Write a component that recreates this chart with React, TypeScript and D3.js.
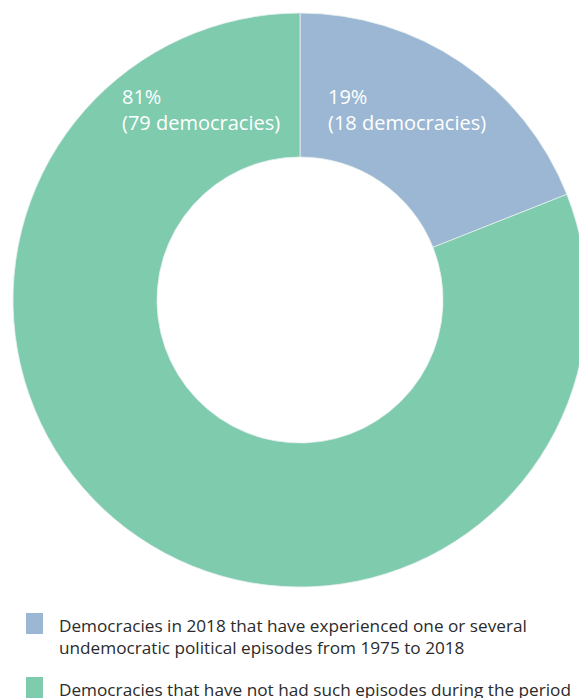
import React from "react";
import * as d3 from "d3";

const categories = ["Democracies in 2018 that have experienced one or several undemocratic political episodes from 1975 to 2018", "Democracies that have not had such episodes during the period"];
const values = [19, 81];
const percents = ["19%", "81%"];
const countLabels = ["(18 democracies)", "(79 democracies)"];
const colors = ["#9bb7d3", "#7ecbae"];
const legendLines = [
  ["Democracies in 2018 that have experienced one or several", "undemocratic political episodes from 1975 to 2018"],
  ["Democracies that have not had such episodes during the period"],
];

export default function App() {
  const W = 579, H = 698;
  const cx = 300, cy = 300, outerR = 287, innerR = 143;
  const pie = d3.pie<number>().sort(null).value((d) => d);
  const arcs = pie(values);
  const arc = d3.arc<d3.PieArcDatum<number>>().innerRadius(innerR).outerRadius(outerR);
  const labelPos = [
    { x: 328, y: 104 },
    { x: 122, y: 104 },
  ];
  const font = "'Open Sans', 'Noto Sans', sans-serif";
  return (
    <svg width={W} height={H} style={{ position: "absolute", left: 0, top: 0, display: "block" }}>
      <g transform={`translate(${cx},${cy})`}>
        {arcs.map((a, i) => (
          <path key={i} d={arc(a) || ""} fill={colors[i]} stroke="#e8f0f0" strokeWidth={0.8} />
        ))}
      </g>
      {labelPos.map((p, i) => (
        <text key={i} x={p.x} y={p.y} fill="#fff" fontFamily={font} fontSize={20}>
          <tspan x={p.x}>{percents[i]}</tspan>
          <tspan x={p.x} dy={26}>{countLabels[i]}</tspan>
        </text>
      ))}
      {legendLines.map((lines, i) => {
        const y0 = 613 + i * 64;
        return (
          <g key={i}>
            <rect x={26} y={y0} width={17} height={21} fill={colors[i]} />
            <text x={59} y={y0 + 19} fill="#2b2b2b" fontFamily={font} fontSize={17.2}>
              {lines.map((l, j) => (
                <tspan key={j} x={59} dy={j === 0 ? 0 : 22}>{l}</tspan>
              ))}
            </text>
          </g>
        );
      })}
    </svg>
  );
}
